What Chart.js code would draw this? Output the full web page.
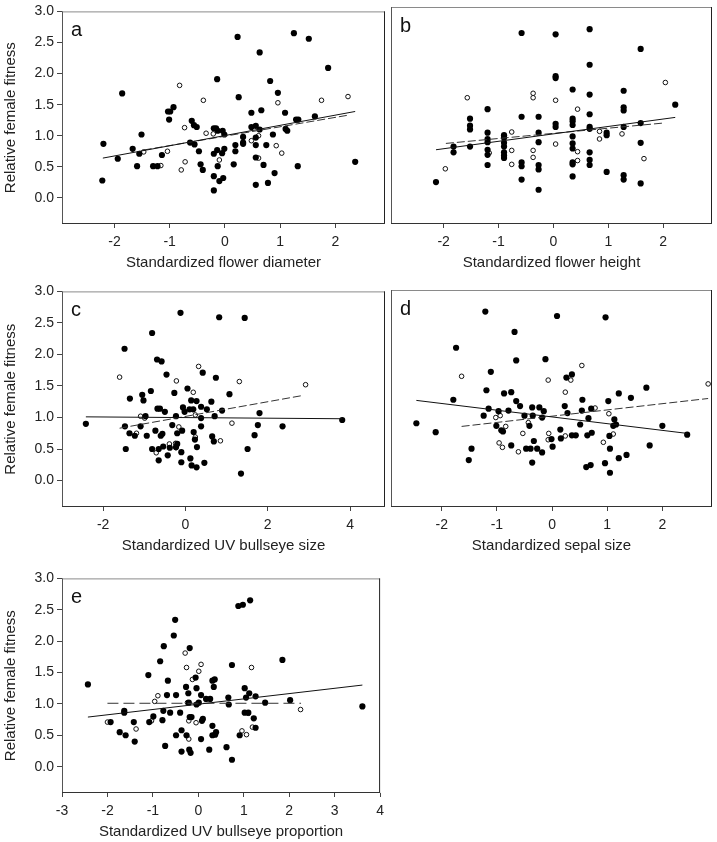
<!DOCTYPE html>
<html>
<head>
<meta charset="utf-8">
<script src="https://cdn.jsdelivr.net/npm/chart.js@4"></script>
<style>
  html, body { margin: 0; padding: 0; background: #fff; overflow: hidden; }
  body { width: 717px; height: 842px; position: relative; }
  .panel { position: absolute; }
</style>
</head>
<body>
<div class="panel" id="pa" style="left:0;top:0"><canvas id="ca" width="390" height="273"></canvas></div>
<div class="panel" id="pb" style="left:386px;top:0"><canvas id="cb" width="331" height="273"></canvas></div>
<div class="panel" id="pc" style="left:0;top:280px"><canvas id="cc" width="390" height="276"></canvas></div>
<div class="panel" id="pd" style="left:386px;top:280px"><canvas id="cd" width="331" height="276"></canvas></div>
<div class="panel" id="pe" style="left:0;top:567px"><canvas id="ce" width="390" height="275"></canvas></div>
<script>
const yTicks = [0, 0.5, 1.0, 1.5, 2.0, 2.5, 3.0];
const xTicksABD = [-2, -1, 0, 1, 2];
const xTicksC = [-2, 0, 2, 4];
const xTicksE = [-3, -2, -1, 0, 1, 2, 3, 4];

// panel a: flower diameter
const aFilled = [[-2.22,0.28],[-2.20,0.87],[-1.94,0.63],[-1.86,1.68],[-1.67,0.79],[-1.59,0.51],[-1.55,0.71],[-1.51,1.02],
  [-1.30,0.51],[-1.22,0.51],[-1.14,0.69],[-1.03,1.39],[-1.01,1.26],[-0.99,1.39],[-0.93,1.46],[-0.60,1.24],[-0.56,1.17],
  [-0.51,1.14],[-0.63,0.89],[-0.55,0.86],[-0.47,0.75],[-0.44,0.54],[-0.40,0.45],[-0.14,1.91],[-0.20,1.12],[-0.16,1.12],
  [-0.13,1.08],[-0.04,1.08],[-0.01,1.02],[-0.20,0.71],[-0.14,0.77],[-0.05,0.72],[-0.01,0.79],[-0.13,0.51],[-0.20,0.35],
  [-0.10,0.27],[-0.03,0.32],[-0.20,0.12],[0.23,2.59],[0.25,1.62],[0.16,0.54],[0.19,0.85],[0.19,0.75],[0.33,0.98],
  [0.33,0.89],[0.33,0.87],[0.48,1.37],[0.48,1.14],[0.56,1.16],[0.56,0.97],[0.56,0.85],[0.56,0.65],[0.56,0.21],[0.63,2.34],
  [0.63,1.10],[0.66,1.41],[0.70,0.53],[0.75,0.85],[0.78,0.24],[0.82,1.88],[0.87,1.02],[0.90,0.40],[0.96,1.69],[1.09,1.37],
  [1.10,1.11],[1.13,1.08],[1.25,2.65],[1.29,1.26],[1.32,0.51],[1.33,1.26],[1.52,2.56],[1.63,1.31],[1.87,2.09],[2.36,0.58]];
const aOpen = [[-1.47,0.74],[-1.04,0.75],[-1.16,0.52],[-0.82,1.81],[-0.79,0.45],[-0.72,0.58],[-0.73,1.13],[-0.39,1.57],
  [-0.34,1.04],[-0.21,1.03],[-0.10,0.61],[0.48,0.92],[0.61,1.00],[0.61,0.64],[0.93,0.84],[0.96,1.53],[1.03,0.72],
  [1.75,1.57],[2.23,1.63]];
const aSolid = [[-2.21,0.64],[2.36,1.39]];
const aDash = [[-1.47,0.77],[2.23,1.33]];

// panel b: flower height
const bFilled = [[-2.14,0.24],[-1.82,0.80],[-1.82,0.71],[-1.52,1.24],[-1.52,1.13],[-1.52,1.07],[-1.52,0.80],[-1.20,1.39],
  [-1.20,1.02],[-1.20,0.92],[-1.20,0.87],[-1.20,0.75],[-1.20,0.67],[-1.20,0.51],[-0.90,0.98],[-0.90,0.94],[-0.90,0.86],
  [-0.90,0.80],[-0.90,0.71],[-0.90,0.66],[-0.90,0.62],[-0.58,2.59],[-0.58,1.27],[-0.58,0.55],[-0.58,0.49],[-0.58,0.28],
  [-0.27,1.27],[-0.27,1.02],[-0.27,0.87],[-0.27,0.51],[-0.27,0.44],[-0.27,0.12],[0.04,2.57],[0.04,1.91],[0.04,1.88],
  [0.04,1.16],[0.04,1.11],[0.35,1.70],[0.35,1.24],[0.35,1.20],[0.35,1.14],[0.35,0.96],[0.35,0.85],[0.35,0.77],[0.35,0.55],
  [0.35,0.52],[0.35,0.33],[0.66,2.65],[0.66,2.09],[0.66,1.62],[0.66,1.31],[0.66,1.11],[0.66,1.08],[0.66,0.71],[0.66,0.59],
  [0.66,0.51],[0.97,1.02],[0.97,0.98],[0.97,0.40],[1.28,1.68],[1.28,1.42],[1.28,1.37],[1.28,1.11],[1.28,0.35],[1.28,0.28],
  [1.59,2.34],[1.59,1.17],[1.59,0.86],[1.59,0.22],[2.22,1.46]];
const bOpen = [[-1.97,0.45],[-1.57,1.57],[-1.17,0.70],[-0.76,1.03],[-0.76,0.74],[-0.76,0.52],[-0.37,1.64],[-0.37,1.57],
  [-0.37,0.74],[-0.37,0.63],[0.04,1.53],[0.04,0.84],[0.44,1.39],[0.44,0.72],[0.44,0.58],[0.84,1.04],[0.84,0.92],
  [1.25,1.00],[1.65,0.61],[2.04,1.81]];
const bSolid = [[-2.14,0.75],[2.22,1.26]];
const bDash = [[-1.96,0.85],[1.99,1.17]];

// panel c: UV bullseye size
const cFilled = [[-2.42,0.90],[-1.47,0.86],[-1.48,2.09],[-1.45,0.50],[-1.35,1.30],[-1.36,0.75],[-1.23,0.71],[-1.09,0.86],
  [-1.05,1.36],[-1.02,1.27],[-0.97,1.02],[-0.94,0.71],[-0.84,1.42],[-0.81,0.50],[-0.81,2.34],[-0.73,0.79],[-0.69,1.92],
  [-0.68,1.14],[-0.65,0.50],[-0.65,0.32],[-0.62,1.14],[-0.60,0.71],[-0.58,1.89],[-0.56,0.74],[-0.54,0.54],[-0.50,1.09],
  [-0.46,1.68],[-0.43,0.40],[-0.38,0.52],[-0.32,0.88],[-0.27,1.39],[-0.23,1.02],[-0.20,0.75],[-0.20,0.58],[-0.23,0.53],
  [-0.12,2.66],[-0.10,0.29],[-0.08,0.79],[-0.10,0.45],[-0.06,1.16],[-0.02,1.09],[0.05,1.46],[0.10,1.13],[0.14,1.27],
  [0.12,0.35],[0.15,0.24],[0.19,1.13],[0.20,0.77],[0.23,0.65],[0.27,1.26],[0.27,0.21],[0.28,0.53],[0.38,1.17],[0.38,0.99],
  [0.38,0.86],[0.42,1.71],[0.46,0.28],[0.52,1.13],[0.63,1.25],[0.65,0.70],[0.69,0.62],[0.71,1.02],[0.74,1.63],[0.82,2.59],
  [0.89,1.11],[1.07,1.37],[1.44,2.58],[1.35,0.11],[1.51,0.50],[1.68,0.72],[1.76,0.88],[1.80,1.07],[2.36,0.86],[3.81,0.96]];
const cOpen = [[-1.60,1.64],[-1.19,0.75],[-1.09,1.02],[-0.99,0.99],[-0.71,0.44],[-0.39,0.58],[-0.24,0.59],[-0.23,0.52],
  [-0.22,1.58],[-0.16,0.85],[0.19,1.40],[0.24,1.04],[0.32,1.81],[0.24,0.69],[0.85,0.63],[1.13,0.91],[1.31,1.57],[2.92,1.52]];
const cSolid = [[-2.42,1.01],[3.81,0.98]];
const cDash = [[-1.60,0.83],[2.86,1.35]];

// panel d: sepal size
const dFilled = [[-2.46,0.90],[-2.11,0.76],[-1.79,1.27],[-1.74,2.09],[-1.51,0.32],[-1.46,0.50],[-1.24,1.02],[-1.21,2.66],
  [-1.19,1.42],[-1.15,1.13],[-1.11,1.71],[-1.01,0.86],[-0.97,1.09],[-0.92,0.79],[-0.89,0.77],[-0.87,1.37],[-0.79,1.10],
  [-0.74,1.39],[-0.74,0.55],[-0.68,2.34],[-0.65,1.89],[-0.65,1.25],[-0.58,1.17],[-0.50,1.02],[-0.47,0.50],[-0.41,0.86],
  [-0.39,0.50],[-0.36,1.15],[-0.36,0.28],[-0.33,0.62],[-0.35,1.02],[-0.27,0.50],[-0.23,1.15],[-0.18,0.99],[-0.18,0.44],
  [-0.15,1.09],[-0.12,1.91],[-0.01,0.65],[0.01,0.53],[0.09,2.59],[0.15,0.80],[0.16,0.66],[0.23,1.17],[0.26,1.62],
  [0.28,1.06],[0.36,1.67],[0.36,0.71],[0.43,0.71],[0.51,0.88],[0.54,1.10],[0.55,1.27],[0.62,0.21],[0.64,0.71],[0.66,0.98],
  [0.70,0.24],[0.72,0.75],[0.71,1.13],[0.96,0.27],[0.97,2.57],[1.02,1.25],[1.04,0.70],[1.05,0.12],[1.05,0.50],[1.11,0.86],
  [1.13,0.96],[1.16,0.88],[1.21,1.37],[1.21,0.35],[1.35,0.40],[1.43,1.30],[1.71,1.46],[1.77,0.55],[2.00,0.86],[2.45,0.72]];
const dOpen = [[-1.64,1.64],[-1.02,0.99],[-0.94,1.02],[-0.96,0.59],[-0.90,0.52],[-0.84,0.85],[-0.61,0.45],[-0.53,0.74],
  [-0.43,0.91],[-0.07,1.58],[-0.06,0.74],[-0.07,0.64],[0.24,1.39],[0.24,0.70],[0.34,1.58],[0.54,1.81],[0.78,1.14],
  [0.93,0.60],[1.03,1.05],[1.11,0.73],[2.83,1.52]];
const dSolid = [[-2.46,1.26],[2.45,0.74]];
const dDash = [[-1.64,0.85],[2.83,1.29]];

// panel e: UV bullseye proportion
const eFilled = [[-2.43,1.31],[-1.93,0.71],[-1.73,0.55],[-1.63,0.89],[-1.63,0.86],[-1.60,0.50],[-1.42,0.71],[-1.40,0.40],
  [-1.10,1.46],[-1.08,0.71],[-0.99,0.80],[-0.84,1.68],[-0.76,1.92],[-0.77,0.89],[-0.79,0.74],[-0.73,0.33],[-0.69,1.14],
  [-0.67,1.37],[-0.62,0.86],[-0.54,2.09],[-0.51,2.34],[-0.49,1.14],[-0.49,0.50],[-0.40,0.86],[-0.37,0.58],[-0.37,0.24],
  [-0.27,1.27],[-0.26,0.50],[-0.22,1.17],[-0.21,1.02],[-0.19,0.79],[-0.19,1.89],[-0.20,0.27],[-0.17,0.22],[-0.15,0.79],
  [-0.06,1.42],[-0.04,1.25],[-0.04,0.99],[0.01,1.02],[0.06,1.14],[0.06,0.44],[0.08,0.73],[0.10,0.76],[0.17,1.08],
  [0.26,1.08],[0.24,0.27],[0.31,0.65],[0.31,0.50],[0.31,1.37],[0.36,1.39],[0.34,1.27],[0.37,0.51],[0.39,0.55],[0.62,0.31],
  [0.66,1.10],[0.67,0.99],[0.74,0.11],[0.74,1.62],[0.88,2.56],[0.91,0.50],[0.98,2.58],[1.02,1.25],[1.02,0.86],[1.05,1.10],
  [1.10,0.86],[1.12,1.17],[1.14,2.65],[1.22,0.77],[1.26,1.12],[1.26,0.62],[1.47,1.02],[1.85,1.70],[2.02,1.06],[3.61,0.96]];
const eOpen = [[-2.00,0.71],[-1.37,0.60],[-0.96,1.04],[-0.89,1.13],[-1.03,0.73],[-0.29,1.81],[-0.26,1.58],[-0.24,1.02],
  [-0.21,0.73],[-0.21,0.44],[-0.13,1.39],[-0.05,0.70],[0.01,1.52],[0.06,1.63],[0.96,0.57],[1.06,0.51],[1.10,0.85],
  [1.17,1.58],[1.19,0.63],[2.25,0.91]];
const eSolid = [[-2.43,0.79],[3.61,1.30]];
const eDash = [[-2.00,1.01],[2.26,1.01]];

const FONT = 'Liberation Sans, Arial, sans-serif';

const framePlugin = {
  id: 'frame',
  afterDraw(chart) {
    const { ctx, chartArea: { left, top, right, bottom } } = chart;
    const label = chart.options.plugins.frame.label;
    ctx.save();
    ctx.lineWidth = 1;
    const seg = (x1, y1, x2, y2, c) => {
      ctx.strokeStyle = c;
      ctx.beginPath(); ctx.moveTo(x1, y1); ctx.lineTo(x2, y2); ctx.stroke();
    };
    seg(left, top + 0.5, right, top + 0.5, '#8a8a8a');
    seg(left + 0.5, top, left + 0.5, bottom, '#555');
    seg(right - 0.5, top, right - 0.5, bottom, '#222');
    seg(left, bottom - 0.5, right, bottom - 0.5, '#333');
    ctx.fillStyle = '#111';
    ctx.font = '20px ' + FONT;
    ctx.textBaseline = 'alphabetic';
    ctx.fillText(label, left + 9, top + 25);
    ctx.restore();
  }
};

function toXY(pairs) {
  return pairs.map(p => ({ x: p[0], y: p[1] }));
}

function makePanel(canvasId, cfg) {
  const ctx = document.getElementById(canvasId).getContext('2d');
  return new Chart(ctx, {
    type: 'scatter',
    data: {
      datasets: [
        {
          data: toXY(cfg.solid), showLine: true, borderColor: '#111', borderWidth: 1,
          pointRadius: 0, fill: false
        },
        {
          data: toXY(cfg.dash), showLine: true, borderColor: '#333', borderWidth: 1,
          borderDash: cfg.dashPattern, pointRadius: 0, fill: false
        },
        {
          data: toXY(cfg.filled), pointRadius: 3.1, pointBackgroundColor: '#000',
          pointBorderColor: '#000', pointBorderWidth: 0
        },
        {
          data: toXY(cfg.open), pointRadius: 2.3, pointBackgroundColor: '#fff',
          pointBorderColor: '#111', pointBorderWidth: 1
        }
      ]
    },
    options: {
      responsive: false,
      animation: false,
      events: [],
      layout: { padding: { top: cfg.padTop, right: cfg.padRight, left: 0, bottom: 0 } },
      plugins: {
        legend: { display: false },
        tooltip: { enabled: false },
        frame: { label: cfg.label }
      },
      scales: {
        x: {
          type: 'linear',
          min: cfg.xMin,
          max: cfg.xMax,
          afterBuildTicks: s => { s.ticks = cfg.xTicks.map(v => ({ value: v })); },
          afterFit: s => { s.height = 49; },
          border: { display: false },
          grid: { display: true, drawOnChartArea: false, drawTicks: true, tickLength: 4, color: '#444' },
          ticks: { color: '#222', font: { family: FONT, size: 14 }, padding: 6, callback: v => String(v) },
          title: {
            display: true, text: cfg.xTitle, color: '#222',
            font: { family: FONT, size: 15 }, padding: { top: 2, bottom: 1 }
          }
        },
        y: {
          type: 'linear',
          min: -0.42,
          max: 3.0,
          afterBuildTicks: s => { s.ticks = yTicks.map(v => ({ value: v })); },
          afterFit: s => { s.width = cfg.showY ? 62 : 2; },
          border: { display: false },
          grid: { display: cfg.showY, drawOnChartArea: false, drawTicks: true, tickLength: 5, color: '#444' },
          ticks: { display: cfg.showY, color: '#222', font: { family: FONT, size: 14 }, padding: 3, callback: v => v.toFixed(1) },
          title: {
            display: cfg.showY, text: 'Relative female fitness', color: '#222',
            font: { family: FONT, size: 15 }, padding: { top: 2, bottom: 4 }
          }
        }
      }
    },
    plugins: [framePlugin]
  });
}

makePanel('ca', { label: 'a', filled: aFilled, open: aOpen, solid: aSolid, dash: aDash, dashPattern: [8, 3],
  xMin: -2.95, xMax: 2.9, xTicks: xTicksABD, xTitle: 'Standardized flower diameter', showY: true, padTop: 7, padRight: 2 });
makePanel('cb', { label: 'b', filled: bFilled, open: bOpen, solid: bSolid, dash: bDash, dashPattern: [8, 3],
  xMin: -2.96, xMax: 2.89, xTicks: xTicksABD, xTitle: 'Standardized flower height', showY: false, padTop: 7, padRight: 3 });
makePanel('cc', { label: 'c', filled: cFilled, open: cOpen, solid: cSolid, dash: cDash, dashPattern: [8, 3],
  xMin: -3.0, xMax: 4.85, xTicks: xTicksC, xTitle: 'Standardized UV bullseye size', showY: true, padTop: 10, padRight: 2 });
makePanel('cd', { label: 'd', filled: dFilled, open: dOpen, solid: dSolid, dash: dDash, dashPattern: [8, 3],
  xMin: -2.92, xMax: 2.9, xTicks: xTicksABD, xTitle: 'Standardized sepal size', showY: false, padTop: 10, padRight: 3 });
makePanel('ce', { label: 'e', filled: eFilled, open: eOpen, solid: eSolid, dash: eDash, dashPattern: [11, 5],
  xMin: -3, xMax: 4, xTicks: xTicksE, xTitle: 'Standardized UV bullseye proportion', showY: true, padTop: 10, padRight: 2 });
</script>
</body>
</html>
